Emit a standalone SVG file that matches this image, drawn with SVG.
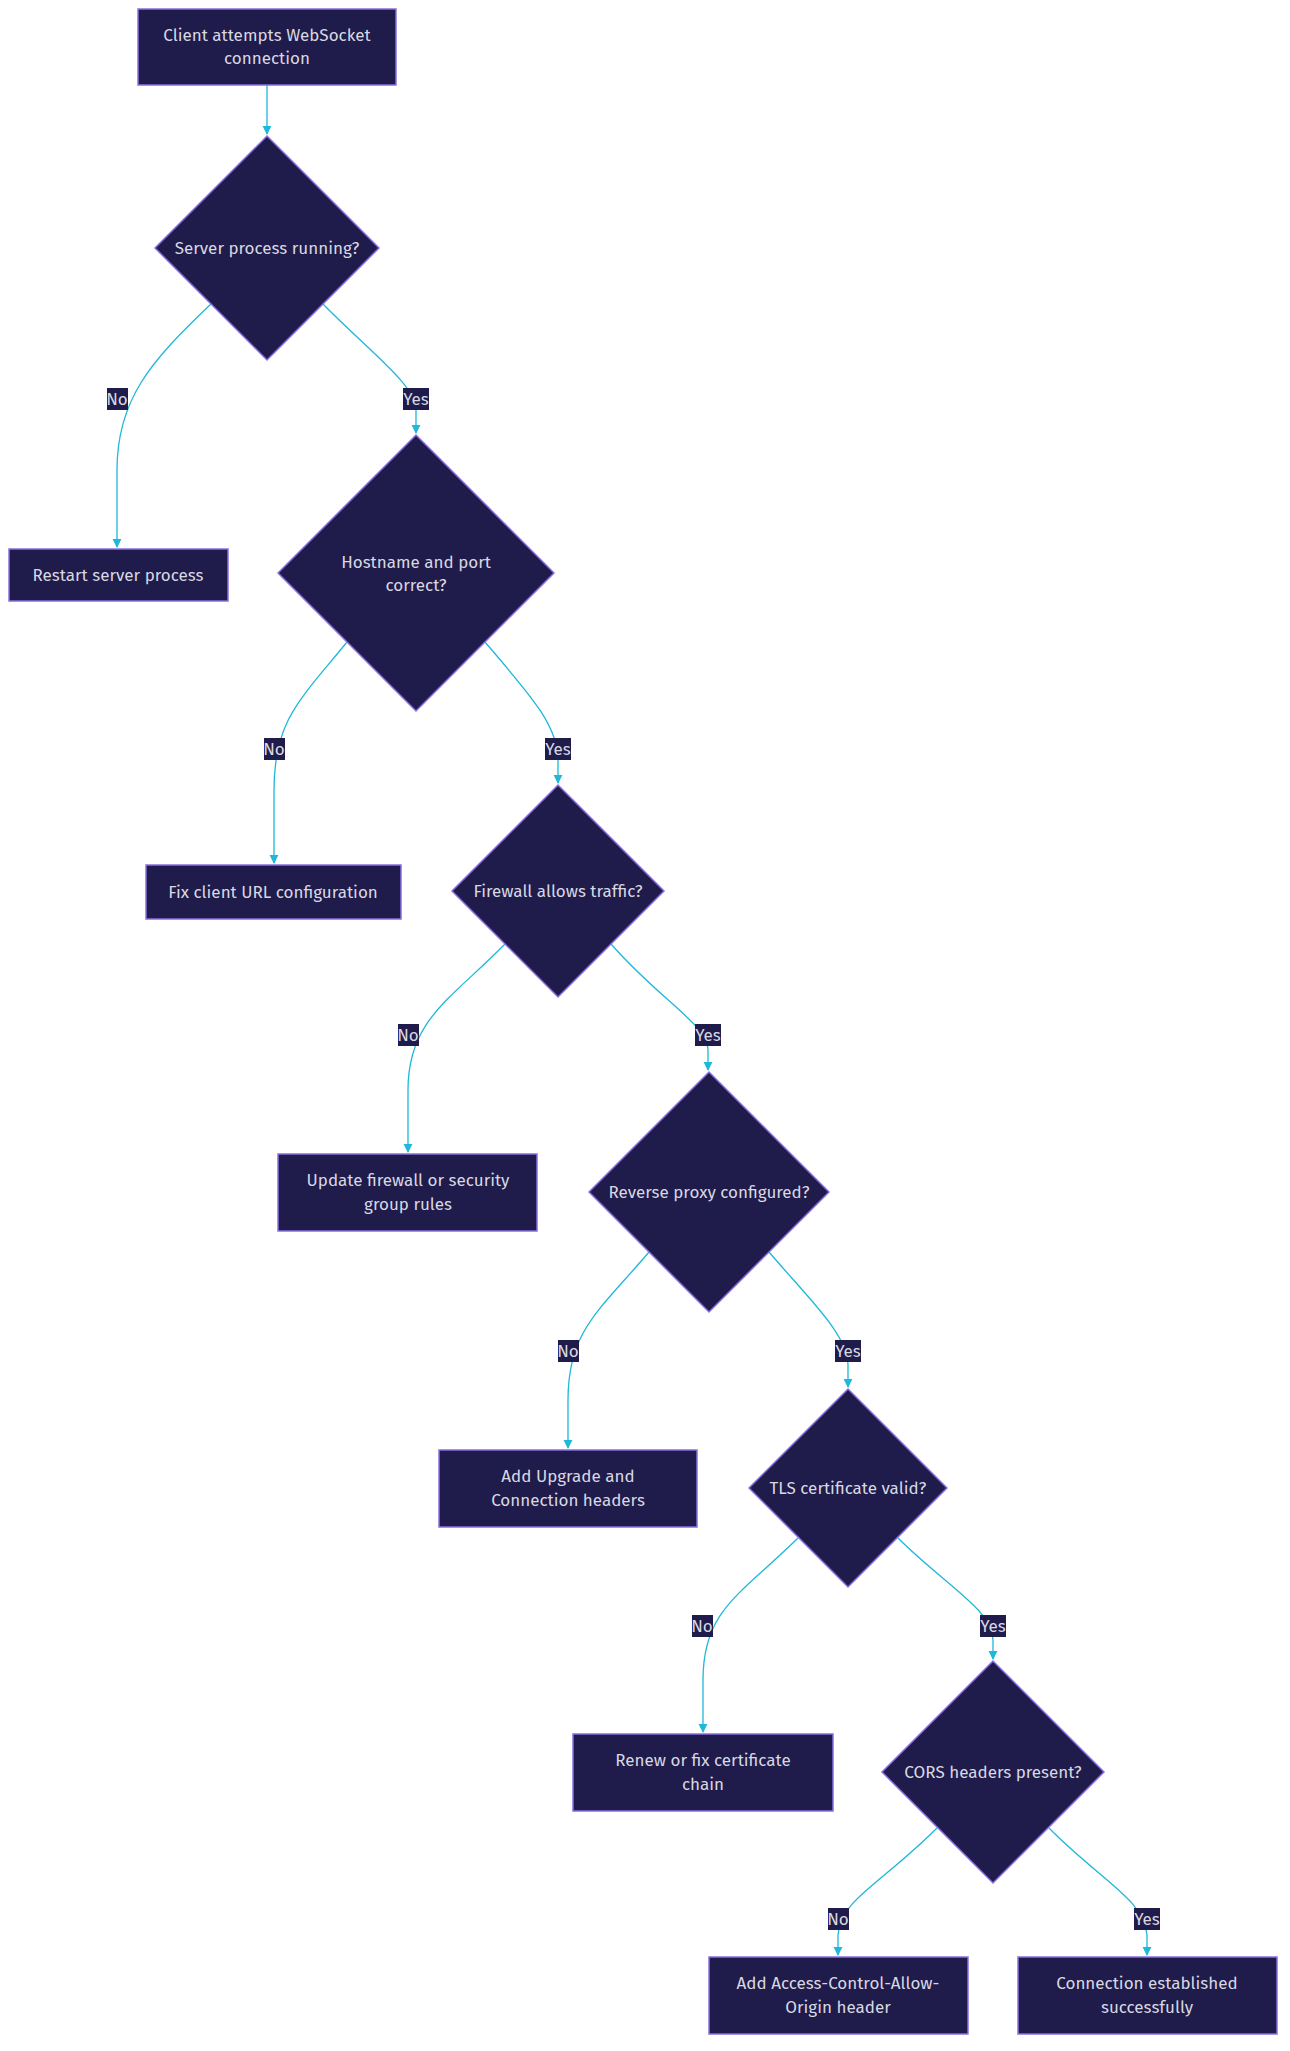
<svg xmlns="http://www.w3.org/2000/svg" width="1290" height="2051" viewBox="0 0 1290 2051">
<defs>
<marker id="ah" viewBox="0 0 10 10" refX="9" refY="5" markerWidth="7" markerHeight="7" orient="auto"><path d="M0,0 L10,5 L0,10 z" fill="#1eb8d8"/></marker>
<style>
.n{fill:#1f1b4a;stroke:#8b6fe0;stroke-width:1.5}
.t{font-family:"Fira Sans","Noto Sans",sans-serif;font-size:17px;fill:#d8d8e2;text-anchor:middle;dominant-baseline:central}
.e{fill:none;stroke:#1eb8d8;stroke-width:1.3;marker-end:url(#ah)}
.lb{fill:#1f1b4a}
</style>
</defs>
<rect width="1290" height="2051" fill="#ffffff"/>
<g id="edges">
<path class="e" d="M267,85 L267,134"/>
<path class="e" d="M211,304 C150,362 117,400 117,470 L117,547"/>
<path class="e" d="M323,304 C370,352 416,385 416,410 L416,433"/>
<path class="e" d="M347,642 C300,700 274,720 274,790 L274,863"/>
<path class="e" d="M485,642 C530,695 558,725 558,760 L558,783"/>
<path class="e" d="M505,944 C450,1000 408,1020 408,1090 L408,1152"/>
<path class="e" d="M611,944 C660,1000 708,1025 708,1050 L708,1070"/>
<path class="e" d="M649,1252 C600,1310 568,1330 568,1400 L568,1448"/>
<path class="e" d="M769,1252 C810,1300 848,1335 848,1365 L848,1387"/>
<path class="e" d="M798,1538 C740,1595 703,1610 703,1680 L703,1732"/>
<path class="e" d="M898,1538 C945,1585 993,1610 993,1640 L993,1659"/>
<path class="e" d="M937,1828 C880,1885 840,1900 838,1935 L838,1955"/>
<path class="e" d="M1049,1828 C1100,1880 1145,1900 1147,1935 L1147,1955"/>
<g class="lb">
<rect x="107" y="388" width="21" height="22"/><rect x="403" y="388" width="26" height="22"/>
<rect x="264" y="738" width="21" height="22"/><rect x="545" y="738" width="26" height="22"/>
<rect x="398" y="1024" width="21" height="22"/><rect x="695" y="1024" width="26" height="22"/>
<rect x="558" y="1340" width="21" height="22"/><rect x="835" y="1340" width="26" height="22"/>
<rect x="692" y="1615" width="21" height="22"/><rect x="980" y="1615" width="26" height="22"/>
<rect x="828" y="1908" width="21" height="22"/><rect x="1134" y="1908" width="26" height="22"/>
</g>
<text class="t" x="117" y="399">No</text><text class="t" x="416" y="399">Yes</text>
<text class="t" x="274" y="749">No</text><text class="t" x="558" y="749">Yes</text>
<text class="t" x="408" y="1035">No</text><text class="t" x="708" y="1035">Yes</text>
<text class="t" x="568" y="1351">No</text><text class="t" x="848" y="1351">Yes</text>
<text class="t" x="702" y="1626">No</text><text class="t" x="993" y="1626">Yes</text>
<text class="t" x="838" y="1919">No</text><text class="t" x="1147" y="1919">Yes</text>
</g>
<g id="start"><rect class="n" x="138" y="9" width="258" height="76"/><text class="t" x="267" y="35">Client attempts WebSocket</text><text class="t" x="267" y="58">connection</text></g>
<g id="d1"><polygon class="n" points="267,136 379,248 267,360 155,248"/><text class="t" x="267" y="248">Server process running?</text></g>
<g id="restart"><rect class="n" x="9" y="549" width="219" height="52"/><text class="t" x="118" y="575">Restart server process</text></g>
<g id="d2"><polygon class="n" points="416,435 554,573 416,711 278,573"/><text class="t" x="416" y="562">Hostname and port</text><text class="t" x="416" y="585">correct?</text></g>
<g id="fixurl"><rect class="n" x="146" y="865" width="255" height="54"/><text class="t" x="273" y="892">Fix client URL configuration</text></g>
<g id="d3"><polygon class="n" points="558,785 664,891 558,997 452,891"/><text class="t" x="558" y="891">Firewall allows traffic?</text></g>
<g id="fw"><rect class="n" x="278" y="1154" width="259" height="77"/><text class="t" x="408" y="1180">Update firewall or security</text><text class="t" x="408" y="1204">group rules</text></g>
<g id="d4"><polygon class="n" points="709,1072 829,1192 709,1312 589,1192"/><text class="t" x="709" y="1192">Reverse proxy configured?</text></g>
<g id="upgrade"><rect class="n" x="439" y="1450" width="258" height="77"/><text class="t" x="568" y="1476">Add Upgrade and</text><text class="t" x="568" y="1500">Connection headers</text></g>
<g id="d5"><polygon class="n" points="848,1389 947,1488 848,1587 749,1488"/><text class="t" x="848" y="1488">TLS certificate valid?</text></g>
<g id="renew"><rect class="n" x="573" y="1734" width="260" height="77"/><text class="t" x="703" y="1760">Renew or fix certificate</text><text class="t" x="703" y="1784">chain</text></g>
<g id="d6"><polygon class="n" points="993,1661 1104,1772 993,1883 882,1772"/><text class="t" x="993" y="1772">CORS headers present?</text></g>
<g id="acao"><rect class="n" x="709" y="1957" width="259" height="77"/><text class="t" x="838" y="1983">Add Access-Control-Allow-</text><text class="t" x="838" y="2007">Origin header</text></g>
<g id="ok"><rect class="n" x="1018" y="1957" width="259" height="77"/><text class="t" x="1147" y="1983">Connection established</text><text class="t" x="1147" y="2007">successfully</text></g>
</svg>
